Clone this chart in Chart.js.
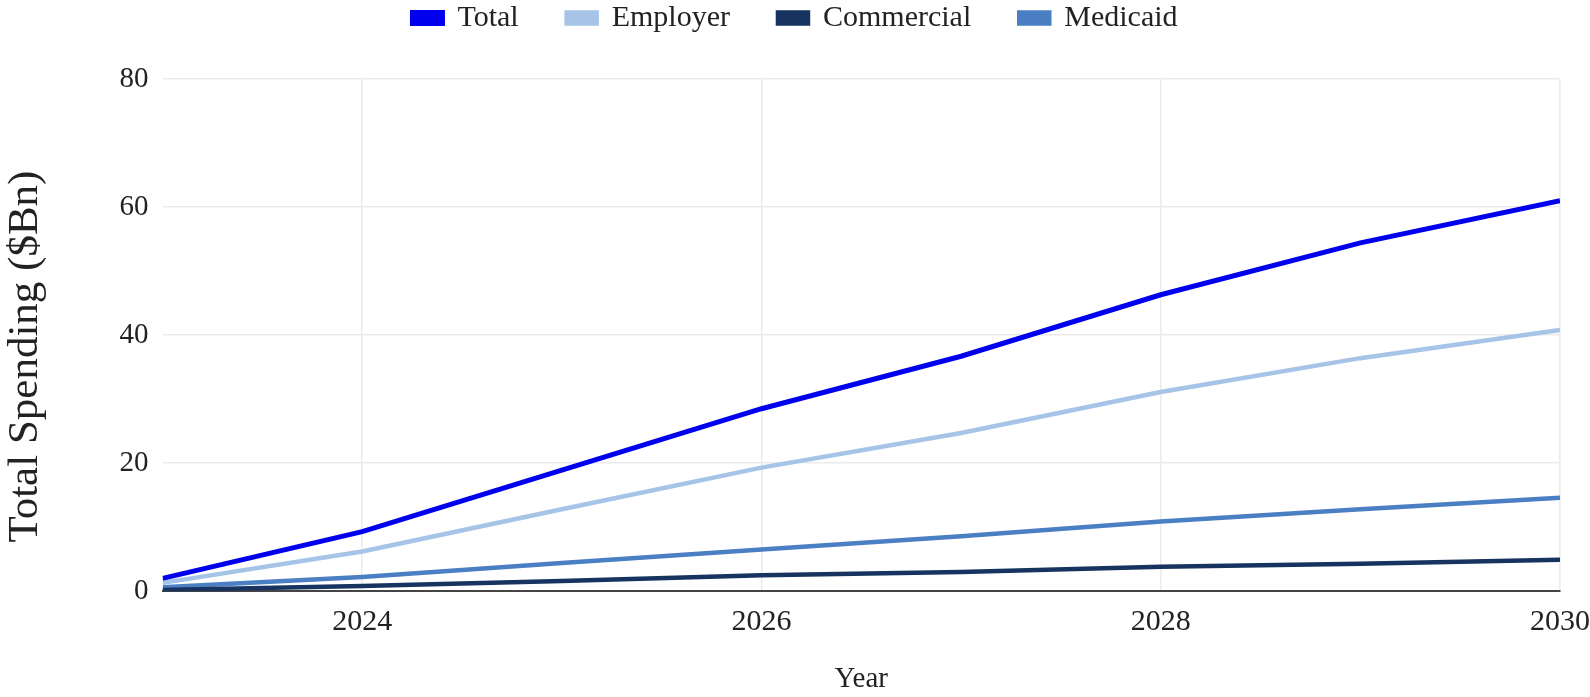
<!DOCTYPE html>
<html>
<head>
<meta charset="utf-8">
<script src="https://cdn.jsdelivr.net/npm/chart.js@4.4.1/dist/chart.umd.min.js"></script>
<style>
  html, body { margin: 0; padding: 0; background: #fff; }
  #wrap { width: 1590px; height: 697px; }
</style>
</head>
<body>
<div id="wrap"><canvas id="spendCanvas"></canvas></div>
<script>
// years on the x axis
let years = [2023, 2024, 2025, 2026, 2027, 2028, 2029, 2030];
let xTicks = [2024, 2026, 2028, 2030];
let yTicks = [0, 20, 40, 60, 80];

// spending in $Bn
let totalVals      = [2.0, 9.3, 18.9, 28.5, 36.7, 46.3, 54.4, 61.0];
let employerVals   = [1.3, 6.2, 12.8, 19.3, 24.7, 31.1, 36.4, 40.8];
let commercialVals = [0.2, 0.8, 1.6, 2.5, 3.0, 3.8, 4.3, 4.9];
let medicaidVals   = [0.6, 2.2, 4.4, 6.5, 8.6, 10.9, 12.8, 14.6];

let seriesNames = ['Total', 'Employer', 'Commercial', 'Medicaid'];
let seriesColors = ['#0000ee', '#a6c4e7', '#17335f', '#4b7fc3'];
let seriesVals = [totalVals, employerVals, commercialVals, medicaidVals];

function toPoints(vals) {
    return vals.map(function(v, i) {
        return { x: years[i], y: v };
    });
}

let fontName = '"Liberation Serif", "Times New Roman", serif';

let datasets = seriesNames.map(function(name, i) {
    return {
        label: name,
        data: toPoints(seriesVals[i]),
        borderColor: seriesColors[i],
        backgroundColor: seriesColors[i],
        borderWidth: i == 0 ? 5 : 4.5,
        pointRadius: 0,
        tension: 0,
        fill: false
    };
});

// extra space between the legend and the plot
let legendGap = {
    id: 'legendGap',
    beforeInit: function(chart) {
        let origFit = chart.legend.fit;
        chart.legend.fit = function() {
            origFit.bind(chart.legend)();
            this.height += 36;
        };
    }
};

let ctx = document.getElementById('spendCanvas').getContext('2d');

let spendChart = new Chart(ctx, {
    type: 'line',
    data: { datasets: datasets },
    plugins: [legendGap],
    options: {
        responsive: true,
        maintainAspectRatio: false,
        animation: false,
        layout: { padding: { top: -45, left: 0, right: 0, bottom: 0 } },
        plugins: {
            legend: {
                position: 'top',
                labels: {
                    font: { family: fontName, size: 30 },
                    color: '#222',
                    boxWidth: 30,
                    boxHeight: 11,
                    padding: 48
                }
            },
            tooltip: { enabled: false }
        },
        scales: {
            x: {
                type: 'linear',
                min: 2023,
                max: 2030,
                afterBuildTicks: function(axis) {
                    axis.ticks = xTicks.map(function(v) { return { value: v }; });
                },
                ticks: {
                    font: { family: fontName, size: 30 },
                    color: '#222',
                    padding: 0,
                    maxRotation: 0,
                    callback: function(v) { return String(v); }
                },
                grid: { color: '#ebebeb', lineWidth: 1.5, drawTicks: true, tickLength: 13, tickColor: 'rgba(0,0,0,0)' },
                border: { color: '#444', width: 2 },
                title: {
                    display: true,
                    text: 'Year',
                    font: { family: fontName, size: 29 },
                    color: '#222',
                    padding: { top: 22, bottom: 0 }
                }
            },
            y: {
                min: 0,
                max: 80,
                afterBuildTicks: function(axis) {
                    axis.ticks = yTicks.map(function(v) { return { value: v }; });
                },
                ticks: {
                    font: { family: fontName, size: 29 },
                    color: '#222',
                    padding: 14
                },
                grid: { color: '#ebebeb', lineWidth: 1.5, drawTicks: false },
                border: { display: false },
                title: {
                    display: true,
                    text: 'Total Spending ($Bn)    ',
                    font: { family: fontName, size: 43 },
                    color: '#222',
                    padding: { top: 0, bottom: 54 }
                }
            }
        }
    }
});
</script>
</body>
</html>
